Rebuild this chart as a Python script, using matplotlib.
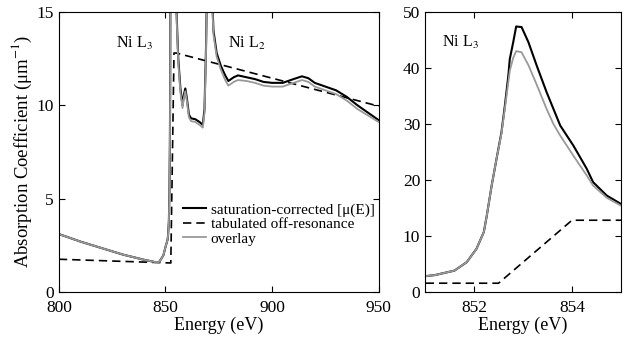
import matplotlib
matplotlib.use('Agg')
import matplotlib.pyplot as plt

# energy grid (eV), fine around the Ni L3 edge
energy = [800, 810, 820, 830, 840, 845, 847, 849, 850, 851, 851.2, 851.6, 851.85,
          852.05, 852.2, 852.26, 852.36, 852.46, 852.56, 852.63, 852.7, 852.73, 852.8,
          852.86, 852.97, 853.11, 853.28, 853.48, 853.62, 853.76, 854.03, 854.3, 854.43,
          854.71, 855.0, 855.5, 856, 857, 858, 858.7, 859.3, 860, 861, 862, 864, 866,
          867.5, 868.3, 869, 869.5, 870.5, 871.5, 872.5, 874, 876, 878, 879.5, 882, 884,
          888, 892, 896, 900, 905, 910, 914, 917, 920, 925, 930, 935, 940, 945, 950]

# saturation-corrected mu(E)
mu_sat = [3.1, 2.7, 2.35, 2.0, 1.72, 1.6, 1.6, 1.95, 2.4, 2.8, 3.0, 3.8, 5.3,
          7.7, 10.7, 13.6, 19, 23.8, 28.5, 33.3, 38.6, 41.6, 44.6,
          47.4, 47.3, 44.6, 40.4, 35.7, 32.7, 29.7, 26.1, 22, 19.6,
          17.2, 15.7, 14.0, 12.5, 10.9, 10.0, 10.6, 10.9, 10.4, 9.5, 9.3, 9.25, 9.1,
          8.95, 9.8, 13, 16.5, 19, 17, 14, 12.8, 12.1, 11.6, 11.3, 11.5, 11.6,
          11.5, 11.4, 11.25, 11.2, 11.2, 11.4, 11.55, 11.45, 11.2, 11.0, 10.8, 10.45, 10.0, 9.6, 9.2]

# overlay
mu_overlay = [3.1, 2.7, 2.35, 2.0, 1.72, 1.6, 1.6, 1.95, 2.4, 2.8, 3.0, 3.8, 5.3,
              7.7, 10.7, 13.6, 19, 23.8, 28.3, 32.8, 37.5, 39.5, 41.8,
              43.0, 42.8, 40.5, 37.0, 32.7, 30.0, 27.9, 24.3, 20.8, 19.0,
              16.8, 15.4, 13.8, 12.3, 10.7, 9.85, 10.45, 10.75, 10.25, 9.35, 9.15, 9.1, 8.95,
              8.8, 9.6, 12.8, 16, 18.5, 16.6, 13.8, 12.6, 11.9, 11.35, 11.05, 11.25, 11.35,
              11.3, 11.2, 11.05, 11.0, 11.0, 11.2, 11.35, 11.25, 11.0, 10.8, 10.6, 10.25, 9.8, 9.45, 9.1]

# tabulated off-resonance
energy_off = [800, 852.5, 854, 855, 950]
mu_off = [1.75, 1.55, 12.8, 12.8, 9.95]

plt.rcParams['font.family'] = ['Liberation Serif', 'DejaVu Serif']
plt.rcParams['mathtext.fontset'] = 'stix'

fig = plt.figure(figsize=(6.26, 3.41), dpi=100)
ax1 = fig.add_axes([0.094, 0.144, 0.511, 0.821])
ax2 = fig.add_axes([0.679, 0.144, 0.313, 0.821])

for ax in (ax1, ax2):
    ax.plot(energy, mu_sat, color='black', lw=1.5, label='saturation-corrected [μ(E)]')
    ax.plot(energy_off, mu_off, color='black', lw=1.2, dashes=(5, 3),
            label='tabulated off-resonance')
    ax.plot(energy, mu_overlay, color='#999999', lw=1.3, label='overlay')
    ax.tick_params(direction='in', top=True, right=True, labelsize=12.5, length=4,
                   width=0.8)
    ax.tick_params(axis='x', pad=6)
    ax.set_xlabel('Energy (eV)', fontsize=13, labelpad=0)
    for s in ax.spines.values():
        s.set_linewidth(0.8)

ax1.set_xlim(800, 950)
ax1.set_ylim(0, 15)
ax1.set_xticks([800, 850, 900, 950])
ax1.set_yticks([0, 5, 10, 15])
ax1.set_ylabel('Absorption Coefficient (μm$^{-1}$)', fontsize=13.5, labelpad=2)
ax1.text(835.5, 13.3, 'Ni L$_3$', fontsize=11.5, ha='center', va='center')
ax1.text(888, 13.3, 'Ni L$_2$', fontsize=11.5, ha='center', va='center')
ax1.legend(loc='upper left', bbox_to_anchor=(0.37, 0.34), frameon=False,
           fontsize=11, handlelength=1.5, handletextpad=0.3, labelspacing=0.05,
           borderaxespad=0)

ax2.set_xlim(851, 855)
ax2.set_ylim(0, 50)
ax2.set_xticks([852, 854])
ax2.set_yticks([0, 10, 20, 30, 40, 50])
ax2.text(851.73, 44.5, 'Ni L$_3$', fontsize=11.5, ha='center', va='center')

fig.savefig('out.png', dpi=100)
